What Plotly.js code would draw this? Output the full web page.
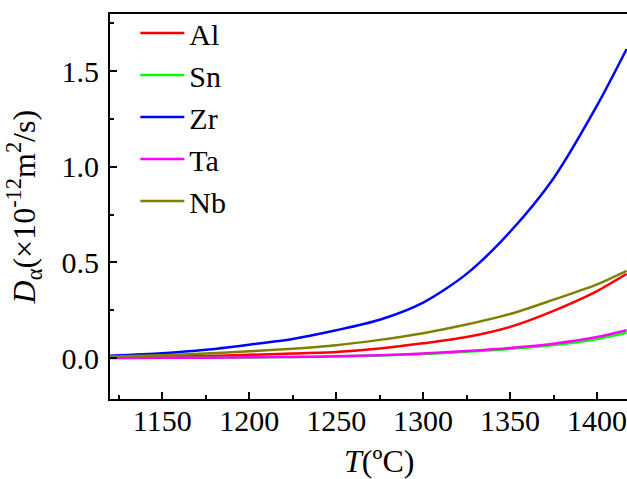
<!DOCTYPE html>
<html>
<head>
<meta charset="utf-8">
<script src="https://cdn.plot.ly/plotly-3.0.1.min.js"></script>
<style>
html,body{margin:0;padding:0;overflow:hidden;background:#fff;}
#chart{width:627px;height:479px;}
</style>
</head>
<body>
<div id="chart"></div>
<script>
// Temperature (°C)
const temperature = [1120, 1150, 1175, 1200, 1225, 1250, 1275, 1300, 1325, 1350, 1375, 1400, 1417];
// Diffusion coefficients D_alpha (×10^-12 m^2/s)
const dAl = [0.003, 0.007, 0.011, 0.017, 0.024, 0.032, 0.050, 0.077, 0.110, 0.163, 0.247, 0.350, 0.440];
const dSn = [0.000, 0.001, 0.002, 0.003, 0.005, 0.008, 0.013, 0.021, 0.033, 0.048, 0.068, 0.100, 0.132];
const dZr = [0.012, 0.025, 0.043, 0.070, 0.100, 0.145, 0.200, 0.290, 0.440, 0.660, 0.940, 1.320, 1.615];
const dTa = [0.000, 0.001, 0.002, 0.004, 0.006, 0.009, 0.015, 0.024, 0.037, 0.053, 0.075, 0.110, 0.145];
const dNb = [0.008, 0.015, 0.024, 0.035, 0.049, 0.067, 0.095, 0.130, 0.175, 0.230, 0.305, 0.385, 0.456];

const seriesNames = ["Al", "Sn", "Zr", "Ta", "Nb"];
const seriesValues = [dAl, dSn, dZr, dTa, dNb];
const seriesColors = ["#ff0000", "#00ff00", "#0000ff", "#ff00ff", "#808000"];

const xTickVals = [1150, 1200, 1250, 1300, 1350, 1400];
const yTickVals = [0, 0.5, 1.0, 1.5];
const yTickText = ["0.0", "0.5", "1.0", "1.5"];

const traces = seriesNames.map((name, i) => ({
  x: temperature,
  y: seriesValues[i],
  name: name,
  type: "scatter",
  mode: "lines",
  line: {color: seriesColors[i], width: 2.5, shape: "spline", smoothing: 0.8},
  hoverinfo: "skip"
}));

const fam = "Liberation Serif";

const layout = {
  width: 627,
  height: 479,
  margin: {l: 110, r: 0, t: 14, b: 80},
  paper_bgcolor: "#fff",
  plot_bgcolor: "#fff",
  showlegend: true,
  legend: {
    x: 0.049, y: 1.018, xanchor: "left", yanchor: "top",
    bgcolor: "rgba(0,0,0,0)",
    itemwidth: 44,
    font: {family: fam, size: 30, color: "#000"}
  },
  xaxis: {
    range: [1120, 1417.2],
    tickvals: xTickVals,
    ticks: "inside", ticklen: 7, tickwidth: 2, tickcolor: "#000",
    minor: {ticks: "inside", ticklen: 4, tickwidth: 2, tickcolor: "#000", dtick: 25, tick0: 1125},
    showline: true, linewidth: 2, linecolor: "#000", mirror: true,
    showgrid: false, zeroline: false,
    ticklabeloverflow: "allow",
    ticklabelstandoff: -6,
    tickfont: {family: fam, size: 30, color: "#000"}
  },
  yaxis: {
    range: [-0.214, 1.798],
    tickvals: yTickVals,
    ticktext: yTickText,
    ticks: "inside", ticklen: 7, tickwidth: 2, tickcolor: "#000",
    minor: {ticks: "inside", ticklen: 4, tickwidth: 2, tickcolor: "#000", dtick: 0.25, tick0: 0.25},
    showline: true, linewidth: 2, linecolor: "#000", mirror: false,
    showgrid: false, zeroline: false,
    ticklabelstandoff: 3,
    tickfont: {family: fam, size: 30, color: "#000"}
  },
  annotations: [
    {
      text: "<i>T</i>(ºC)", xref: "paper", yref: "paper",
      x: 0.52, y: -0.16, xanchor: "center", yanchor: "middle", showarrow: false,
      font: {family: fam, size: 32, color: "#000"}
    },
    {
      text: "<i>D</i><sub>α</sub>(×10<sup>-12</sup>m<sup>2</sup>/s)", xref: "paper", yref: "paper",
      x: -0.1665, y: 0.5, xanchor: "center", yanchor: "middle", textangle: -90, showarrow: false,
      font: {family: fam, size: 32, color: "#000"}
    }
  ]
};

function draw() {
  Plotly.newPlot("chart", traces, layout, {displayModeBar: false, staticPlot: true});
}
let drawn = false;
function drawOnce() { if (!drawn) { drawn = true; draw(); } }
if (document.fonts && document.fonts.load) {
  Promise.all([
    document.fonts.load('30px "Liberation Serif"'),
    document.fonts.load('italic 30px "Liberation Serif"')
  ]).then(drawOnce, drawOnce);
  setTimeout(drawOnce, 1500);
} else {
  drawOnce();
}
</script>
</body>
</html>
